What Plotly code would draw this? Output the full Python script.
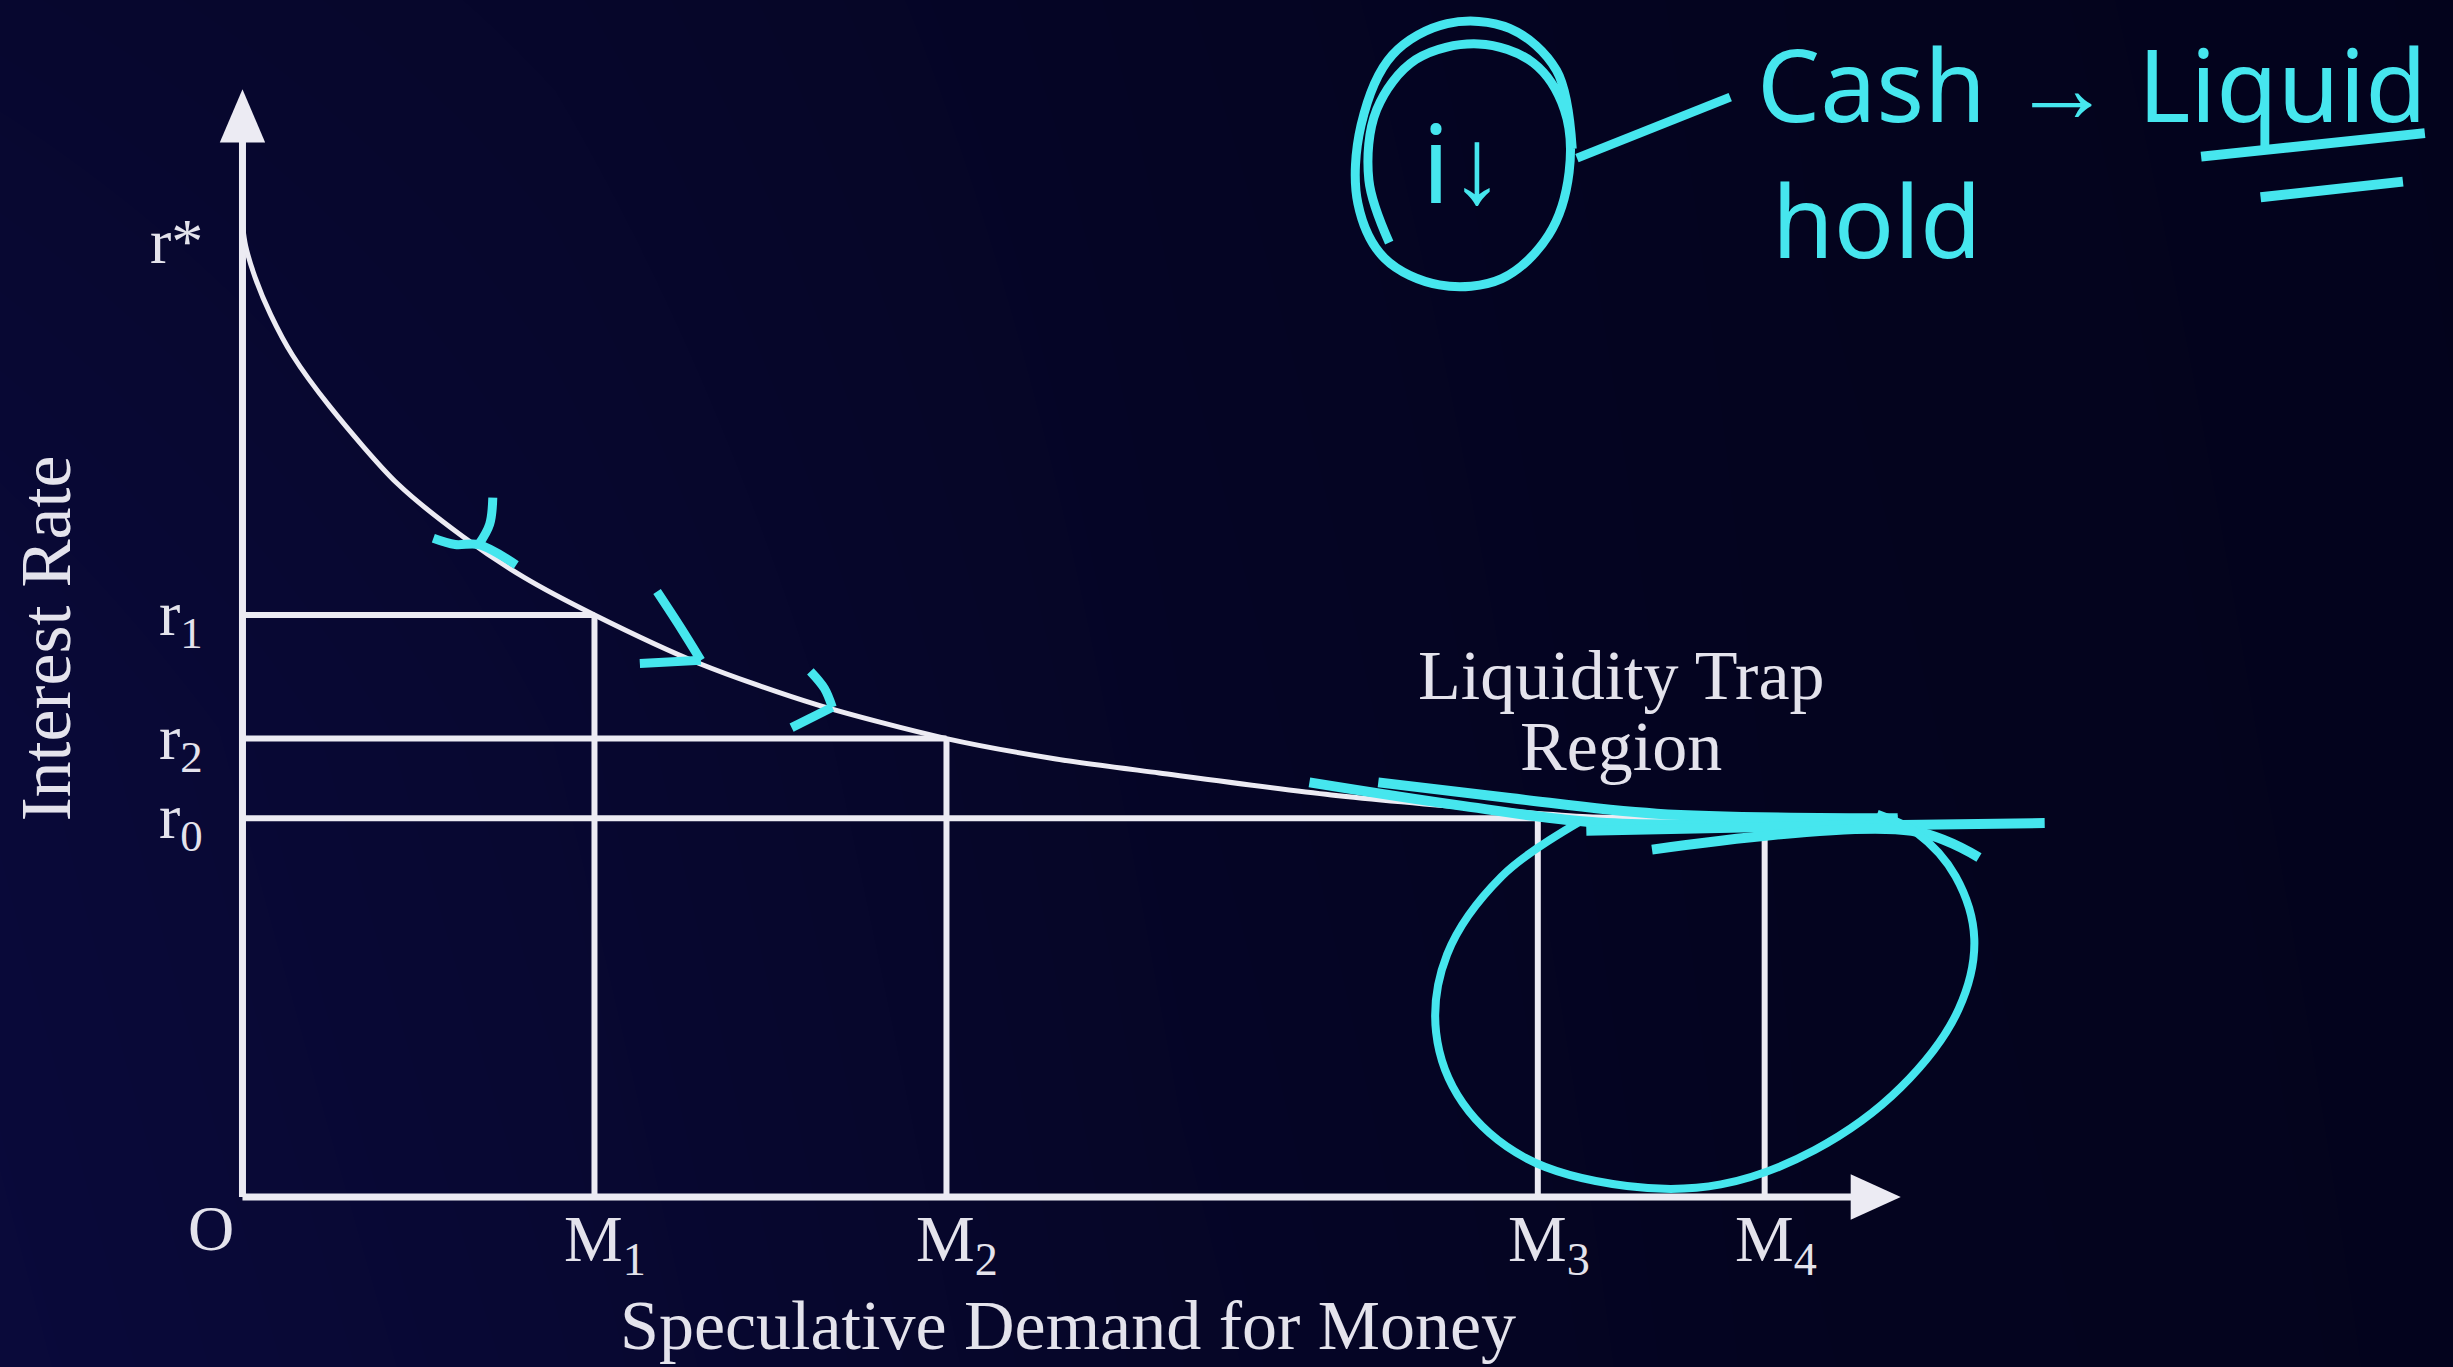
import plotly.graph_objects as go

# ---- Speculative demand for money (diagram units) ----
money_demand = [0.0, 0.02, 0.08, 0.18, 0.32, 0.56, 0.99, 1.41, 1.80, 2.25, 2.92, 3.66, 4.50,
                5.20, 5.86, 6.96, 8.06, 8.60, 9.73]
interest_rate = [6.21, 6.08, 5.88, 5.64, 5.38, 5.05, 4.56, 4.22, 3.96, 3.72, 3.41, 3.15, 2.93,
                 2.80, 2.71, 2.57, 2.47, 2.43, 2.42]

m_levels = [2.25, 4.50, 8.28, 9.73]
m_labels = ["M<sub>1</sub>", "M<sub>2</sub>", "M<sub>3</sub>", "M<sub>4</sub>"]
m_heights = [3.72, 2.93, 2.42, 2.42]

r_levels = [3.72, 2.93, 2.42]
r_labels = ["r<sub>1</sub>", "r<sub>2</sub>", "r<sub>0</sub>"]
r_reach = [2.25, 4.50, 9.73]
r_star = 6.21

x_axis_end = 10.60
y_axis_end = 7.08

# ---- marker-pen notes drawn over the diagram ----
INK = "#46e6ee"
ink_note_loop = [(8.50, 6.70), (8.40, 7.20), (8.10, 7.47), (7.70, 7.50), (7.35, 7.30),
                 (7.15, 6.85), (7.13, 6.35), (7.30, 6.00), (7.65, 5.83), (8.05, 5.87),
                 (8.35, 6.15), (8.48, 6.55), (8.45, 6.95), (8.25, 7.25), (7.90, 7.37),
                 (7.50, 7.27), (7.25, 6.95), (7.20, 6.50), (7.33, 6.10)]
ink_note_link = [(8.53, 6.64), (9.51, 7.03)]
ink_underline_a = [(12.52, 6.65), (13.95, 6.80)]
ink_underline_b = [(12.90, 6.39), (13.81, 6.49)]
ink_trap_loop = [(8.55, 2.40), (8.05, 2.05), (7.70, 1.55), (7.63, 1.05), (7.80, 0.60),
                 (8.20, 0.25), (8.85, 0.07), (9.45, 0.08), (10.05, 0.30), (10.60, 0.70),
                 (10.97, 1.20), (11.07, 1.65), (10.95, 2.05), (10.70, 2.33), (10.45, 2.45)]
ink_flat_strokes = [
    [(6.82, 2.65), (7.80, 2.50), (8.72, 2.39), (10.58, 2.41)],
    [(7.26, 2.65), (8.10, 2.55), (9.04, 2.45), (10.58, 2.42)],
    [(8.59, 2.34), (10.00, 2.37), (11.52, 2.39)],
    [(9.01, 2.22), (10.67, 2.34), (11.10, 2.17)],
]
ink_chevrons = [
    [(1.60, 4.47), (1.58, 4.30), (1.51, 4.17)],
    [(1.22, 4.21), (1.36, 4.17), (1.51, 4.17), (1.75, 4.04)],
    [(2.65, 3.87), (2.80, 3.64), (2.93, 3.43)],
    [(2.54, 3.41), (2.93, 3.43)],
    [(3.63, 3.36), (3.72, 3.25), (3.77, 3.13)],
    [(3.51, 3.00), (3.77, 3.13)],
]

X_RANGE = [-1.550, 14.130]
Y_RANGE = [-1.087, 7.651]

LINE_WHITE = "#ecebf3"
TEXT_WHITE = "#e4e3ec"
SERIF = "Liberation Serif"

fig = go.Figure()

# dark navy board with a soft blue glow on the left
fig.add_trace(go.Heatmap(
    x=[X_RANGE[0], 2.0, 6.0, 10.0, X_RANGE[1]],
    y=[Y_RANGE[0], 3.0, Y_RANGE[1]],
    z=[[0.95, 0.72, 0.38, 0.14, 0.06],
       [0.88, 0.64, 0.32, 0.12, 0.05],
       [0.60, 0.48, 0.26, 0.10, 0.04]],
    zsmooth="best", showscale=False, hoverinfo="skip",
    colorscale=[[0, "#03031b"], [1, "#0a0a3c"]], zmin=0, zmax=1,
))

# axes
fig.add_trace(go.Scatter(
    x=[0, 0, None, 0, x_axis_end - 0.30],
    y=[0, y_axis_end - 0.30, None, 0, 0],
    mode="lines", line=dict(color=LINE_WHITE, width=7), hoverinfo="skip"))

# guide lines to the axes
gx, gy = [], []
for r, reach in zip(r_levels, r_reach):
    gx += [0, reach, None]
    gy += [r, r, None]
for m, h in zip(m_levels, m_heights):
    gx += [m, m, None]
    gy += [0, h, None]
fig.add_trace(go.Scatter(x=gx, y=gy, mode="lines",
                         line=dict(color=LINE_WHITE, width=6), hoverinfo="skip"))

# liquidity preference curve
fig.add_trace(go.Scatter(x=money_demand, y=interest_rate, mode="lines",
                         line=dict(color=LINE_WHITE, width=5, shape="spline", smoothing=0.8),
                         hoverinfo="skip"))


def ink(points, width=8, smooth=True):
    xs = [p[0] for p in points]
    ys = [p[1] for p in points]
    fig.add_trace(go.Scatter(
        x=xs, y=ys, mode="lines", hoverinfo="skip",
        line=dict(color=INK, width=width, shape="spline" if smooth else "linear",
                  smoothing=1.0)))


for stroke in ink_chevrons:
    ink(stroke, width=9)
for stroke in ink_flat_strokes:
    ink(stroke, width=10)
ink(ink_trap_loop, width=8)
ink(ink_note_loop, width=9)
ink(ink_note_link, width=9, smooth=False)
ink(ink_underline_a, width=10, smooth=False)
ink(ink_underline_b, width=10, smooth=False)

# arrowheads
fig.add_shape(type="path", xref="x", yref="y", line=dict(width=0), fillcolor=LINE_WHITE,
              path=f"M -0.145 {y_axis_end - 0.34} L 0 {y_axis_end} L 0.145 {y_axis_end - 0.34} Z")
fig.add_shape(type="path", xref="x", yref="y", line=dict(width=0), fillcolor=LINE_WHITE,
              path=f"M {x_axis_end - 0.32} 0.145 L {x_axis_end} 0 L {x_axis_end - 0.32} -0.145 Z")

ann = []


def label(text, x, y, size=66, xanchor="center", yanchor="middle", color=TEXT_WHITE,
          family=SERIF, angle=0):
    ann.append(dict(text=text, x=x, y=y, xref="x", yref="y", showarrow=False,
                    xanchor=xanchor, yanchor=yanchor, textangle=angle,
                    font=dict(family=family, size=size, color=color)))


for m, t in zip(m_levels, m_labels):
    label(t, m + 0.07, -0.30, size=66)
for r, t in zip(r_levels, r_labels):
    label(t, -0.24, r - 0.02, size=64, xanchor="right")
label("r*", -0.24, r_star - 0.10, size=64, xanchor="right")
label("O", -0.20, -0.20, size=64)
label("Interest Rate", -1.25, 3.57, size=72, angle=-90)
label("Speculative Demand for Money", 5.28, -0.82, size=70)
label("Liquidity Trap", 8.81, 3.33, size=70)
label("Region", 8.81, 2.88, size=70)

# handwritten notes
HAND = "Noto Sans"
label("i↓", 7.80, 6.62, size=108, color=INK, family=HAND)
label("Cash → Liquid", 11.82, 7.12, size=100, color=INK, family=HAND)
label("hold", 10.45, 6.25, size=100, color=INK, family=HAND)

fig.update_layout(
    width=2453, height=1367, autosize=False,
    margin=dict(l=0, r=0, t=0, b=0, pad=0),
    paper_bgcolor="#03031c", plot_bgcolor="#03031c",
    showlegend=False, annotations=ann,
    xaxis=dict(range=X_RANGE, visible=False, fixedrange=True),
    yaxis=dict(range=Y_RANGE, visible=False, fixedrange=True),
)

fig.write_html("out.html", config={"displayModeBar": False, "staticPlot": True})
